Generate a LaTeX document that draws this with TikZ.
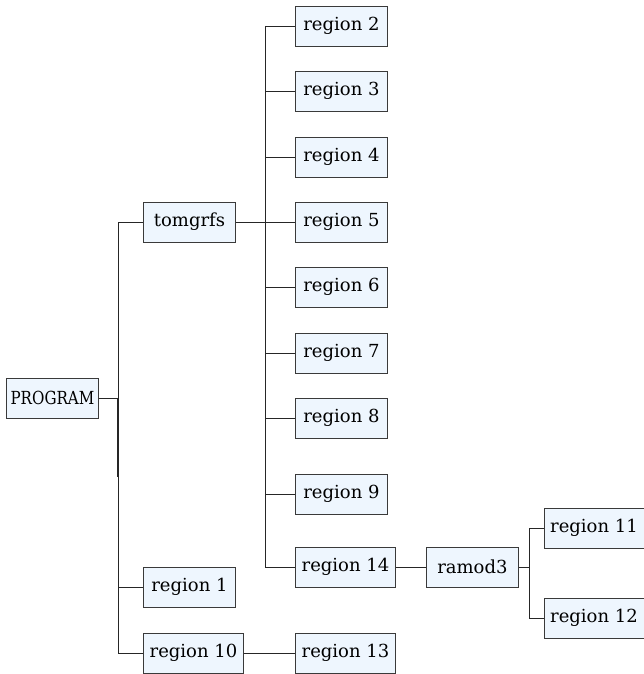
\documentclass[tikz,border=0pt]{standalone}
\usepackage{fontspec}
\setmainfont{DejaVu Serif}
\definecolor{boxfill}{HTML}{EEF6FE}
\definecolor{boxline}{HTML}{3A3A3A}
\begin{document}
\begin{tikzpicture}[x=1pt,y=-1pt,
  box/.style={draw=boxline, fill=boxfill, line width=0.9pt, anchor=west,
    minimum height=40pt, inner sep=0pt, font=\fontsize{18}{20}\selectfont},
  short/.style={box, minimum width=92pt},
  long/.style={box, minimum width=100pt},
  link/.style={draw=black!85, line width=0.9pt}]
\useasboundingbox (0,0) rectangle (644,674);

% root and first level
\node[short] (prog) at (6,398) {\scalebox{0.84}[1]{PROGRAM}};
\node[short] (tom)  at (143,222) {tomgrfs};
\node[short] (r1)   at (143,587) {region 1};
\node[long]  (r10)  at (143,653) {region 10};
\node[long]  (r13)  at (295,653) {region 13};

% children of tomgrfs
\node[short] (r2) at (295,26)  {region 2};
\node[short] (r3) at (295,91)  {region 3};
\node[short] (r4) at (295,157) {region 4};
\node[short] (r5) at (295,222) {region 5};
\node[short] (r6) at (295,287) {region 6};
\node[short] (r7) at (295,353) {region 7};
\node[short] (r8) at (295,418) {region 8};
\node[short] (r9) at (295,494) {region 9};
\node[long]  (r14) at (295,567) {region 14};

% ramod3 branch
\node[short] (ram) at (426,567) {ramod3};
\node[long]  (r11) at (543.5,528) {region 11};
\node[long]  (r12) at (543.5,618) {region 12};

% junction points
\coordinate (ja) at (118,398);
\coordinate (jtop) at (118,222);
\coordinate (jbot) at (118,653);
\coordinate (jr1) at (118,587);
\coordinate (kt) at (265,26);
\coordinate (kb) at (265,567);
\coordinate (m) at (529,567);
\coordinate (mt) at (529,528);
\coordinate (mb) at (529,618);

% first level tree
\draw[link] (prog.east) -- (ja);
\draw[link] (jtop) -- (jbot);
\draw[link, line width=1.4pt] (ja) -- (118,477);
\draw[link] (jtop) -- (tom.west);
\draw[link] (jr1) -- (r1.west);
\draw[link] (jbot) -- (r10.west);
\draw[link] (r10.east) -- (r13.west);

% second level tree
\draw[link] (kt) -- (kb);
\draw[link] (kt) -- (r2.west);
\foreach \n in {r3,r4,r6,r7,r8,r9}
  \draw[link] (\n.west) -- (\n.west -| kt);
\draw[link] (tom.east) -- (r5.west);
\draw[link] (kb) -- (r14.west);

% third level tree
\draw[link] (r14.east) -- (ram.west);
\draw[link] (ram.east) -- (m);
\draw[link] (mt) -- (mb);
\draw[link] (mt) -- (r11.west);
\draw[link] (mb) -- (r12.west);
\end{tikzpicture}
\end{document}
